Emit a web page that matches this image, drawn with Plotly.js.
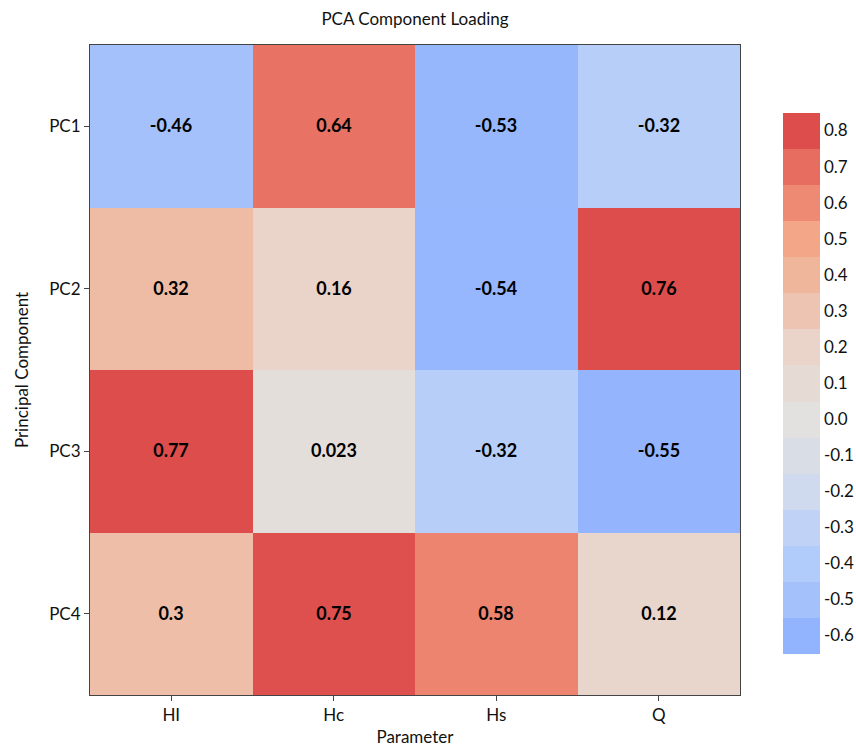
<!DOCTYPE html>
<html>
<head>
<meta charset="utf-8">
<script src="https://cdn.plot.ly/plotly-3.0.1.min.js"></script>
<style>
  html, body { margin: 0; padding: 0; background: #fff; }
  #chart { width: 856px; height: 747px; }
</style>
</head>
<body>
<div id="chart"></div>
<script>
// Parameters (columns) and principal components (rows)
const parameters = ['HI', 'Hc', 'Hs', 'Q'];
const components = ['PC1', 'PC2', 'PC3', 'PC4'];

// Loadings, one row per component
const pc1 = [-0.46, 0.64, -0.53, -0.32];
const pc2 = [0.32, 0.16, -0.54, 0.76];
const pc3 = [0.77, 0.023, -0.32, -0.55];
const pc4 = [0.3, 0.75, 0.58, 0.12];

// Colour-bar tick levels
const levels = [-0.6, -0.5, -0.4, -0.3, -0.2, -0.1, 0.0, 0.1, 0.2, 0.3, 0.4, 0.5, 0.6, 0.7, 0.8];

// Diverging palette, one colour per level (blue -> grey -> red)
const palette = [
  '#92b3fd', '#a4c1fc', '#b1cbfa', '#c0d2f6', '#d0daef', '#d9dde6', '#e2e1df',
  '#e6dad4', '#ead3c8', '#edc4b2', '#efb69c', '#f3a688', '#ee8a73', '#e66d60', '#dd4d4c'
];

const zmin = -0.65, zmax = 0.85;
const span = zmax - zmin;

const loadings = [pc1, pc2, pc3, pc4];
const labels = loadings.map(row => row.map(v => String(v)));

// Smooth scale for the cells; each level's colour is reached slightly
// before the level itself so cells lean toward the next band out
const lead = 0.04;
const smoothScale = [[0, palette[0]]];
levels.forEach((lv, i) => {
  const at = lv === 0 ? 0 : lv - Math.sign(lv) * lead;
  smoothScale.push([(at - zmin) / span, palette[i]]);
});
smoothScale.push([1, palette[palette.length - 1]]);

// Stepped scale for the colour bar: one flat band per level
const stepScale = [];
palette.forEach((c, i) => {
  stepScale.push([i / palette.length, c]);
  stepScale.push([(i + 1) / palette.length, c]);
});

const FONT = 'Lato, "Open Sans", sans-serif';

const heat = {
  type: 'heatmap',
  x: parameters,
  y: components,
  z: loadings,
  zmin: zmin,
  zmax: zmax,
  colorscale: smoothScale,
  showscale: false,
  text: labels,
  texttemplate: '<b>%{text}</b>',
  textfont: { family: FONT, size: 18, color: '#000' },
  xgap: 0, ygap: 0,
  hoverinfo: 'x+y+z'
};

// Invisible markers that carry the stepped colour bar
const bar = {
  type: 'scatter',
  mode: 'markers',
  x: [0, 1],
  y: [0, 1],
  xaxis: 'x2',
  yaxis: 'y2',
  hoverinfo: 'skip',
  showlegend: false,
  marker: {
    size: 1,
    opacity: 0,
    color: [zmin, zmax],
    cmin: zmin,
    cmax: zmax,
    colorscale: stepScale,
    showscale: true,
    colorbar: {
      x: 1.066, xanchor: 'left', xpad: 0,
      y: 0.48, yanchor: 'middle', ypad: 0,
      len: 0.833, lenmode: 'fraction',
      thickness: 37,
      outlinewidth: 0,
      ticks: '',
      tickmode: 'array',
      tickvals: levels,
      ticktext: levels.map(v => v.toFixed(1)),
      ticklabelposition: 'outside',
      tickfont: { family: FONT, size: 17, color: '#111' }
    }
  }
};

const axisStyle = {
  showline: true, mirror: true, linecolor: '#444', linewidth: 1,
  ticks: 'outside', ticklen: 5, tickcolor: '#444', tickwidth: 1,
  showgrid: false, zeroline: false,
  tickfont: { family: FONT, size: 17, color: '#111' }
};

const layout = {
  width: 856, height: 747,
  margin: { l: 90, r: 116, t: 45, b: 52, autoexpand: false },
  paper_bgcolor: '#fff', plot_bgcolor: '#fff',
  font: { family: FONT, color: '#111' },
  title: {
    text: 'PCA Component Loading',
    x: 0.5, xref: 'paper', xanchor: 'center',
    y: 0.975, yref: 'container', yanchor: 'middle',
    font: { family: FONT, size: 17, color: '#111' }
  },
  xaxis: Object.assign({}, axisStyle, {
    title: { text: 'Parameter', standoff: 6, font: { family: FONT, size: 17, color: '#111' } }
  }),
  yaxis: Object.assign({}, axisStyle, {
    autorange: 'reversed',
    title: { text: 'Principal Component', standoff: 16, font: { family: FONT, size: 17, color: '#111' } }
  }),
  xaxis2: { visible: false, overlaying: 'x', range: [5, 6] },
  yaxis2: { visible: false, overlaying: 'y', range: [5, 6] }
};

Plotly.newPlot('chart', [heat, bar], layout, { displayModeBar: false, responsive: false });
</script>
</body>
</html>
